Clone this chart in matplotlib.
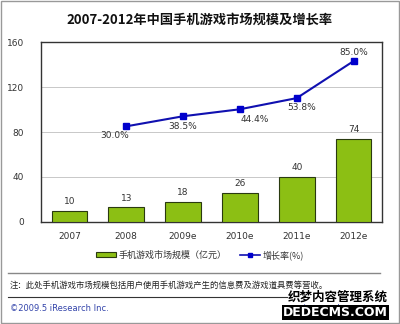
import numpy as np
import matplotlib.pyplot as plt
from matplotlib.lines import Line2D
from matplotlib.patches import Patch

plt.rcParams['font.family'] = ['DejaVu Sans', 'Noto Sans CJK SC']

years = ['2007', '2008', '2009e', '2010e', '2011e', '2012e']
market = [10, 13, 18, 26, 40, 74]
growth_years = ['2008', '2009e', '2010e', '2011e', '2012e']
growth = [30.0, 38.5, 44.4, 53.8, 85.0]

cjk = ['Noto Sans CJK SC', 'DejaVu Sans']
green = '#8cbf14'
blue = '#1010b0'

fig = plt.figure(figsize=(4, 3.24), dpi=100)
fig.patch.set_facecolor('white')
ax = fig.add_axes([0.1025, 0.315, 0.8525, 0.555])

x = np.arange(len(years))
ax.bar(x, market, width=0.63, color=green, edgecolor='#2a3a10', linewidth=0.8, zorder=3)
for xi, v in zip(x, market):
    ax.text(xi, v + 4, str(v), ha='center', va='bottom', fontsize=6.5, color='#333333')

ax.set_ylim(0, 160)
ax.set_xlim(-0.5, len(years) - 0.5)
ax.set_yticks([0, 40, 80, 120, 160])
ax.tick_params(axis='y', length=0, labelsize=6.5, labelcolor='#333333', pad=12)
ax.set_xticks(x)
ax.set_xticklabels(years)
ax.tick_params(axis='x', length=0, labelsize=6.5, labelcolor='#333333', pad=7)
ax.grid(axis='y', color='#c8c8c8', linewidth=0.7, zorder=0)
for s in ax.spines.values():
    s.set_color('#333333')
    s.set_linewidth(1.0)

ax2 = ax.twinx()
gx = [years.index(y) for y in growth_years]
ax2.plot(gx, growth, color=blue, linewidth=1.5, marker='s', markersize=4.5,
         markerfacecolor='#0000cc', markeredgecolor='#0000cc', zorder=4)
ax2.set_ylim(-50.6, 101)
ax2.set_yticks([])
for s in ax2.spines.values():
    s.set_visible(False)

# label offsets in points (dx, dy); negative dy puts the label under the point
offsets = [(-8, -3), (0, -4), (11, -4), (3.5, -3.5), (0, 3)]
for xi, v, (dx, dy) in zip(gx, growth, offsets):
    ax2.annotate('%.1f%%' % v, (xi, v), xytext=(dx, dy),
                 textcoords='offset points', ha='center',
                 va='bottom' if dy > 0 else 'top', fontsize=6.5, color='#333333')

fig.text(0.5, 0.938, '2007-2012年中国手机游戏市场规模及增长率', ha='center', va='center',
         fontsize=9.5, fontweight='bold', family=cjk, color='#111111')

handles = [Patch(facecolor=green, edgecolor='#2a3a10', linewidth=0.8),
           Line2D([], [], color=blue, linewidth=1.2, marker='s', markersize=3.5,
                  markerfacecolor='#0000cc', markeredgecolor='#0000cc')]
leg = fig.legend(handles, ['手机游戏市场规模（亿元）', '增长率(%)'], loc='center',
                 bbox_to_anchor=(0.5, 0.213), ncol=2, frameon=False,
                 prop={'family': cjk, 'size': 6.5}, handlelength=2.2, handleheight=0.5,
                 columnspacing=1.5, handletextpad=0.3)
for t in leg.get_texts():
    t.set_color('#333333')

fig.add_artist(Line2D([0.02, 0.95], [0.158, 0.158], color='#888888', linewidth=1.0))
fig.text(0.025, 0.118, '注：此处手机游戏市场规模包括用户使用手机游戏产生的信息费及游戏道具费等营收。',
         fontsize=6, family=cjk, color='#222222', va='center')
fig.add_artist(Line2D([0.02, 0.95], [0.083, 0.083], color='#333333', linewidth=0.8))
fig.text(0.025, 0.048, '©2009.5 iResearch Inc.', fontsize=6, color='#3344aa', va='center')
fig.text(0.705, 0.048, 'www.iresearch.com.cn', fontsize=6, color='#3344aa', va='center')
fig.text(0.97, 0.083, '织梦内容管理系统', fontsize=9, fontweight='bold', family=cjk,
         color='black', ha='right', va='center', zorder=5,
         bbox=dict(facecolor='white', edgecolor='none', pad=0.3))
fig.text(0.97, 0.035, 'DEDECMS.COM', fontsize=9, fontweight='bold', color='white',
         ha='right', va='center', zorder=5,
         bbox=dict(facecolor='black', edgecolor='none', pad=0.5))

fig.add_artist(plt.Rectangle((0.002, 0.002), 0.996, 0.996, transform=fig.transFigure,
                             fill=False, edgecolor='#999999', linewidth=1.0))

fig.savefig('out.png', dpi=100)
